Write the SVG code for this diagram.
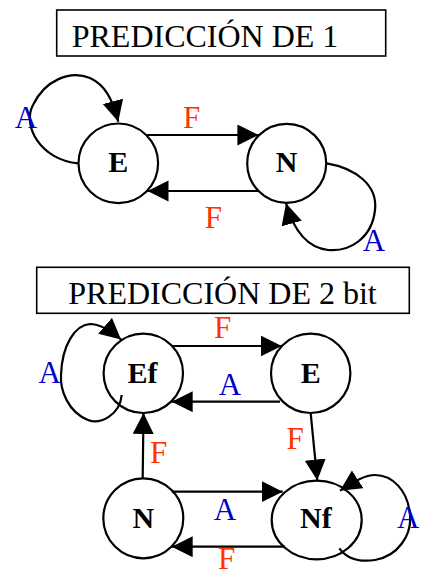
<svg xmlns="http://www.w3.org/2000/svg" width="424" height="576" viewBox="0 0 424 576">
<style>
.box{fill:#fff;stroke:#000;stroke-width:1.6}
.title{font-family:"Liberation Serif","Times New Roman",serif;font-size:32px;fill:#000}
.node{fill:#fff;stroke:#000;stroke-width:2.2}
.nl{font-family:"Liberation Serif","Times New Roman",serif;font-size:30px;font-weight:bold;text-anchor:middle;fill:#000}
.edge{fill:none;stroke:#000;stroke-width:2.2;marker-end:url(#ah)}
.f{font-family:"Liberation Serif","Times New Roman",serif;font-size:31px;text-anchor:middle;fill:#ff3300}
.a{font-family:"Liberation Serif","Times New Roman",serif;font-size:31px;text-anchor:middle;fill:#0000cc}
</style>
<defs>
<marker id="ah" markerUnits="userSpaceOnUse" markerWidth="22" markerHeight="22" refX="21" refY="10.5" orient="auto">
<path d="M0,0 L21,10.5 L0,21 z" fill="#000"/>
</marker>
</defs>
<g id="title1"><rect class="box" x="56.7" y="10" width="329" height="46"/><text class="title" x="71.7" y="46.7">PREDICCIÓN DE 1</text></g>
<g id="title2"><rect class="box" x="36.7" y="267.3" width="372.6" height="46"/><text class="title" x="68.3" y="304">PREDICCIÓN DE 2 bit</text></g>
<g id="node-E1"><circle class="node" cx="118.3" cy="163.3" r="39.8"/><text class="nl" x="118.3" y="171.7">E</text></g>
<g id="node-N1"><circle class="node" cx="286.7" cy="163.3" r="39.5"/><text class="nl" x="286.7" y="171.7">N</text></g>
<g id="node-Ef"><circle class="node" cx="143.3" cy="373.3" r="39.7"/><text class="nl" x="142.5" y="382.7">Ef</text></g>
<g id="node-E2"><circle class="node" cx="310.7" cy="373.3" r="39.7"/><text class="nl" x="310.7" y="382.7">E</text></g>
<g id="node-N2"><circle class="node" cx="143.3" cy="518.3" r="40"/><text class="nl" x="143.3" y="528.3">N</text></g>
<g id="node-Nf"><ellipse class="node" cx="316.7" cy="520" rx="45" ry="39.3"/><text class="nl" x="315.8" y="528.3">Nf</text></g>
<g id="connectors">
<path class="edge" d="M146.7,135 L258.4,135"/>
<path class="edge" d="M259.3,191 L147.5,191"/>
<path class="edge" d="M78.3,163.3 C40,160 22,125 33,105 C45,80 70,70 90,78 C105,85 112,98 118.3,121.7"/>
<path class="edge" d="M326.7,163.3 C355,168 378,185 375,210 C372,238 350,252 328,250 C310,248 295,235 286,203.3"/>
<path class="edge" d="M171.7,346 L281.7,346"/>
<path class="edge" d="M280,401.7 L171.7,401.7"/>
<path class="edge" d="M310.7,413.3 L317.3,480.5"/>
<path class="edge" d="M142.7,478.3 L143.5,413"/>
<path class="edge" d="M171.7,491.7 L282.7,491.7"/>
<path class="edge" d="M285,546.7 L171.7,546.7"/>
<path class="edge" d="M121.7,395 C120,415 100,425 88,420 C68,412 60,390 61,375 C62,345 75,325 90,324 C100,324 110,330 121,339.5"/>
<path class="edge" d="M339.3,548.3 C348,560 362,562 375,560 C398,556 412,535 410,515 C408,490 392,475 375,475 C365,475 355,481 340,490.7"/>
</g>
<g id="labels">
<text class="f" x="191.7" y="128">F</text>
<text class="f" x="213.3" y="228.3">F</text>
<text class="a" x="26" y="128.3">A</text>
<text class="a" x="374" y="250.7">A</text>
<text class="f" x="222.5" y="338.3">F</text>
<text class="a" x="230" y="395">A</text>
<text class="f" x="295" y="449.3">F</text>
<text class="f" x="158.7" y="462.7">F</text>
<text class="a" x="225" y="520">A</text>
<text class="f" x="226.7" y="569">F</text>
<text class="a" x="49.7" y="383.3">A</text>
<text class="a" x="408.3" y="528.3">A</text>
</g>
</svg>
